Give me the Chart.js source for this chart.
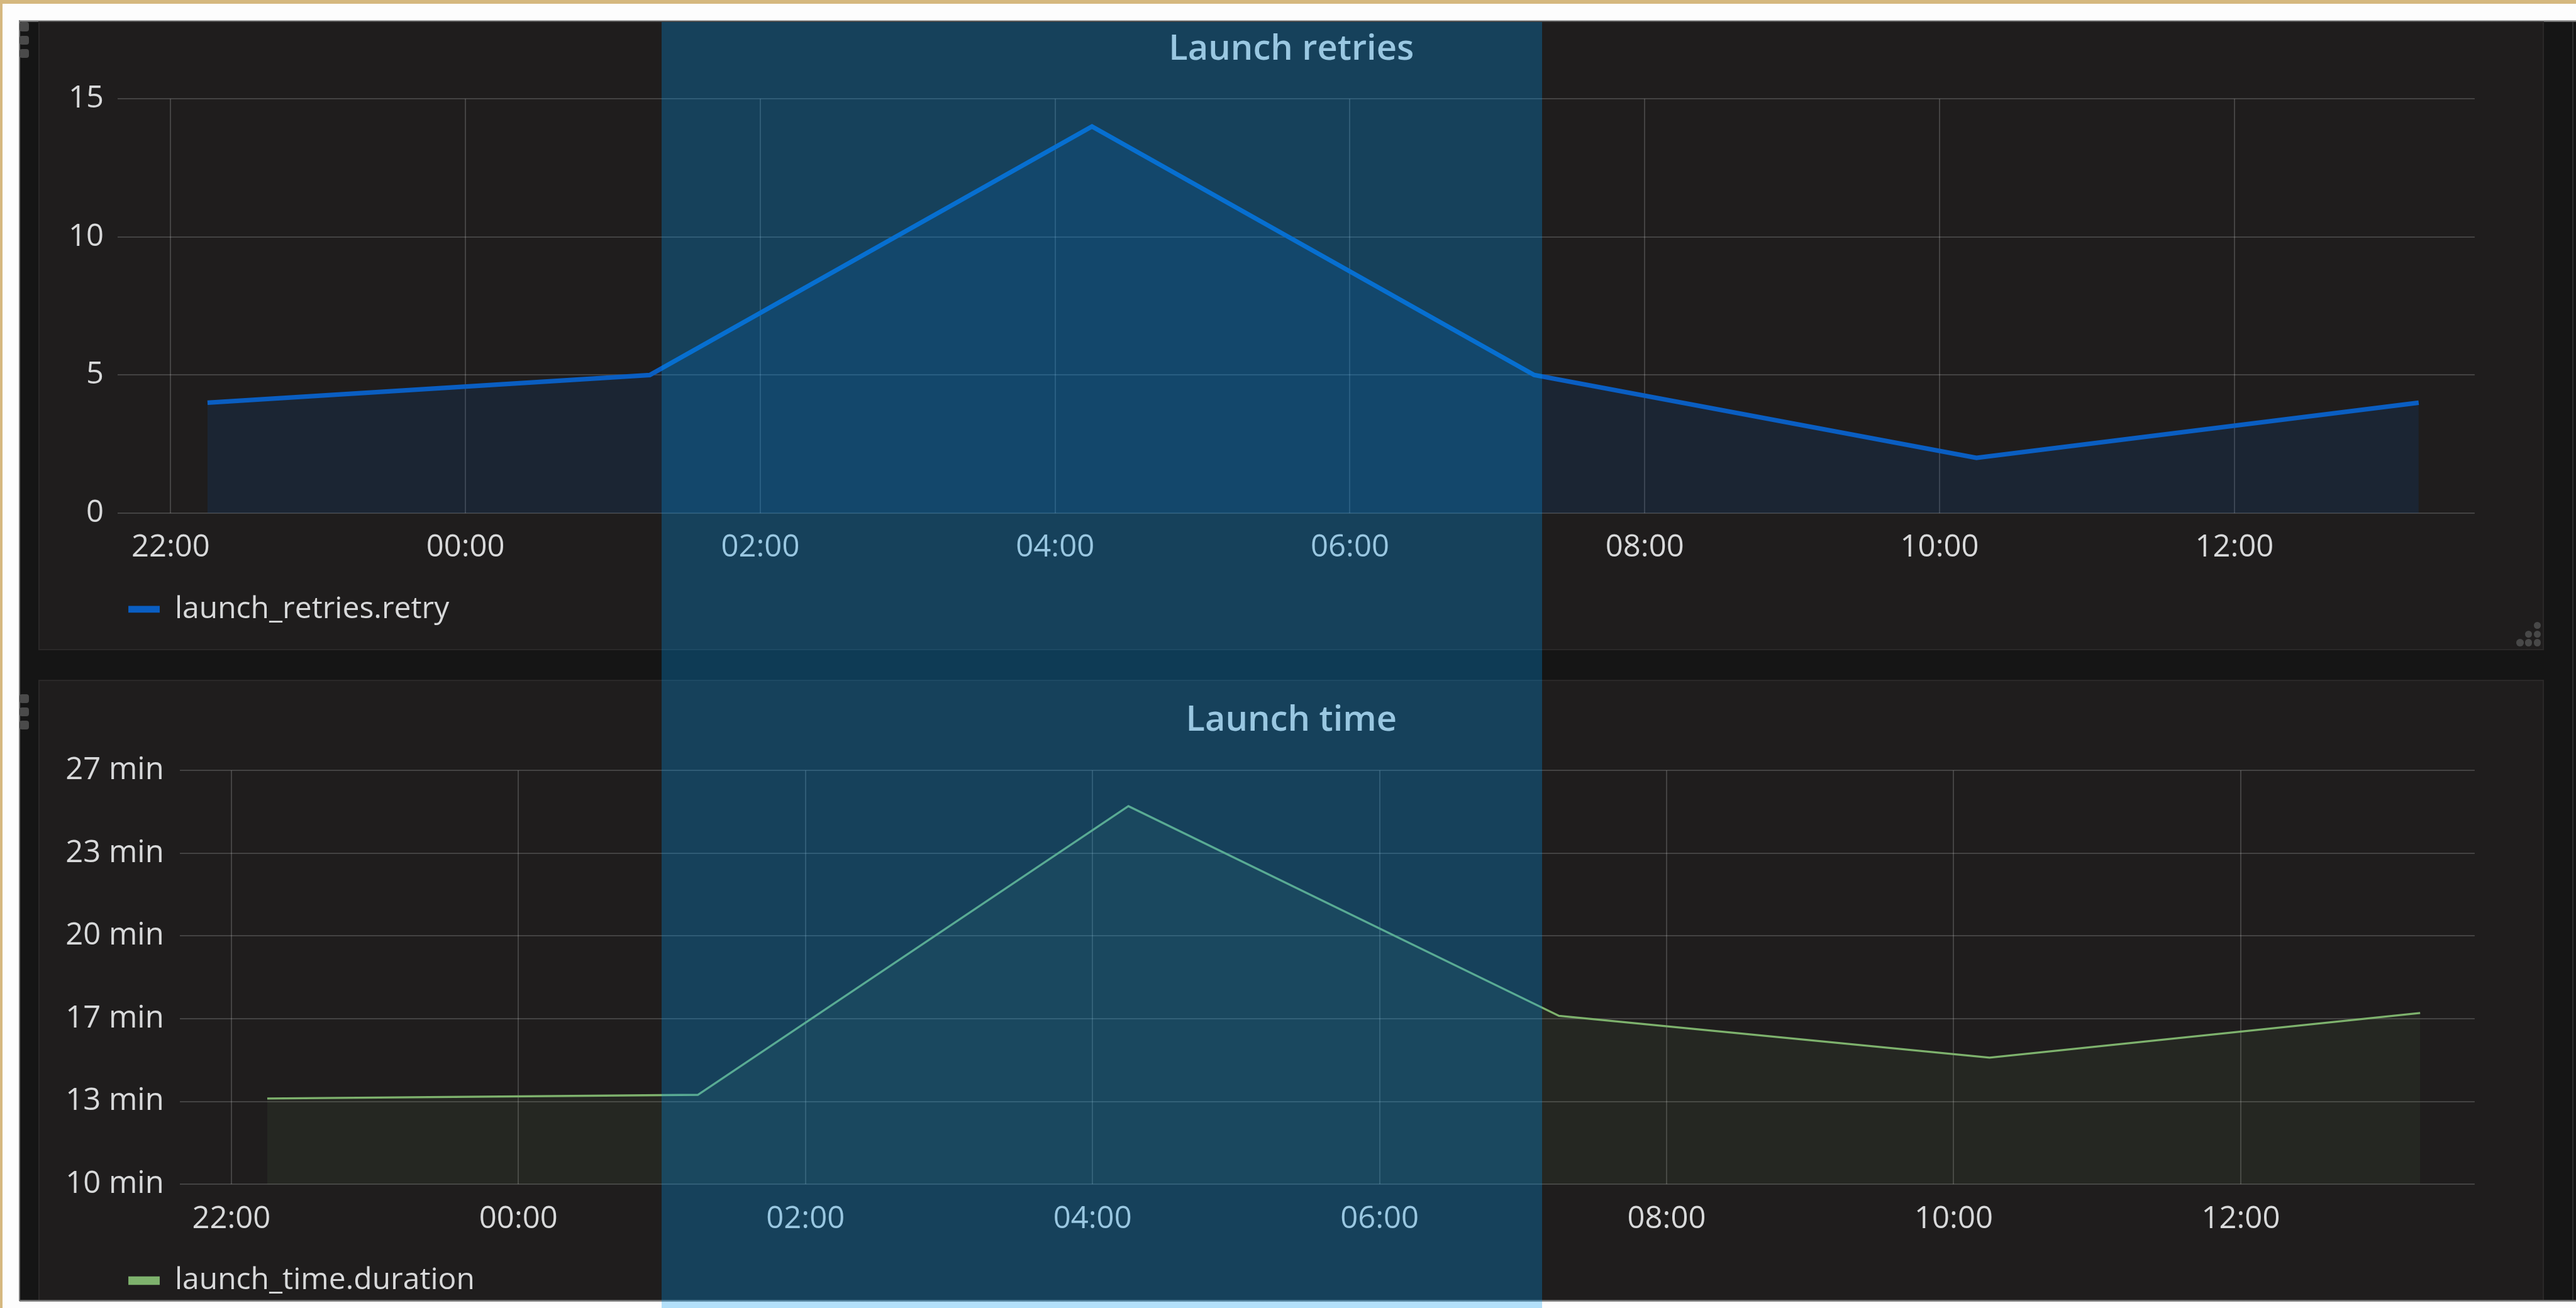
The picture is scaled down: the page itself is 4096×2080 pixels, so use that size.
<!DOCTYPE html>
<html>
<head>
<meta charset="utf-8">
<title>Launch dashboard</title>
<script src="https://cdn.jsdelivr.net/npm/chart.js@4.4.1/dist/chart.umd.min.js"></script>
<style>
  html, body { margin: 0; padding: 0; }
  body {
    width: 4096px; height: 2080px; overflow: hidden; position: relative;
    background: #d5b87f;
    font-family: 'Open Sans', sans-serif;
  }
  .abs { position: absolute; box-sizing: border-box; }
  canvas { position: absolute; display: block; }
</style>
</head>
<body>
<script>
// ---- Data -------------------------------------------------------------
// Sample clock times (one sample every three hours, starting the evening before)
const sampleTimes = ['22:15', '01:15', '04:15', '07:15', '10:15', '13:15'];
// launch_retries.retry
const retryCounts = [4, 5, 14, 5, 2, 4];
// launch_time.duration, in seconds
const launchSeconds = [807, 816, 1514, 1007, 906, 1014];

// ---- Tick labels --------------------------------------------------------
const timeTicks = ['22:00', '00:00', '02:00', '04:00', '06:00', '08:00', '10:00', '12:00'];
const retryTicks = [0, 5, 10, 15];
const durationTicks = [600, 800, 1000, 1200, 1400, 1600];
const durationTickLabels = ['10 min', '13 min', '17 min', '20 min', '23 min', '27 min'];

// Clock time -> hours relative to midnight (evening hours belong to the day before)
function toHours(t) {
  const [hh, mm] = t.split(':').map(Number);
  const h = hh + mm / 60;
  return h >= 18 ? h - 24 : h;
}
const sampleHours = sampleTimes.map(toHours);
const timeTickHours = timeTicks.map(toHours);

// ---- Page layout (design units are 4272 x 2169, drawn at window scale) ----
const S = 4096 / 4272;
function block(x, y, w, h, style) {
  const d = document.createElement('div');
  d.className = 'abs';
  Object.assign(d.style, {
    left: (x * S) + 'px', top: (y * S) + 'px',
    width: (w * S) + 'px', height: (h * S) + 'px'
  }, style || {});
  document.body.appendChild(d);
  return d;
}

const TEXT = '#d8d9da';
const GRID = 'rgba(255,255,255,0.17)';
const FONT = "'Open Sans', sans-serif";

// frame and dashboard background
block(4, 6, 4268, 2163, { background: '#fdfdfd' });
block(32, 34, 4240, 2123, { background: '#151515' });
block(32, 33, 4240, 3, { background: 'linear-gradient(#b4b4b4, #555555)' });
block(31, 33, 2, 2125, { background: '#7c7c7c' });
block(4266, 36, 2, 2121, { background: '#2f2f2f' });

// panels
const panelStyle = { background: '#1f1d1d', boxShadow: 'inset 0 0 0 2px #2a2828' };
block(64, 35, 4155, 1043, panelStyle);
block(64, 1127, 4155, 1043, panelStyle);

// drag handles on the left of each panel
[37, 59, 81, 1151, 1173, 1195].forEach(y =>
  block(32, y, 16, 15, { background: '#4a4a4a', borderRadius: '4px' }));

// resize grip in the panel corner
[[4208, 1037], [4193, 1052], [4208, 1052], [4179, 1066], [4193, 1066], [4208, 1066]]
  .forEach(([x, y]) => block(x - 6, y - 6, 12, 12, { background: '#484848', borderRadius: '50%' }));

function addCanvas(left, top, w, h) {
  const c = document.createElement('canvas');
  c.width = w; c.height = h;
  c.style.left = left + 'px'; c.style.top = top + 'px';
  c.style.width = w + 'px'; c.style.height = h + 'px';
  document.body.appendChild(c);
  return c;
}

const legendLabels = (chart) => chart.data.datasets.map((ds, i) => ({
  text: ds.label, fillStyle: ds.borderColor, strokeStyle: ds.borderColor,
  lineWidth: 0, hidden: false, datasetIndex: i, fontColor: TEXT
}));

// Builds one graph panel; geometry targets are in design units
function graphPanel(canvas, ox, oy, g) {
  const W = canvas.width, H = canvas.height;
  const lx = v => v * S - ox, ly = v => v * S - oy;
  const plotLeft = lx(g.plotLeft), plotRight = lx(g.plotRight);
  const plotTop = ly(g.plotTop), plotBottom = ly(g.plotBottom);

  const titleSize = 56, titleLH = titleSize * 1.2;
  const tickSize = 49, tickLH = tickSize * 1.2;
  const legendSize = 48;
  const boxW = 52 * S, boxH = g.swatchH * S;

  const legendPad = 10;
  const itemH = Math.max(legendSize, boxH);
  const legendH = itemH + legendPad + 10;
  const xAxisH = 110;
  const padRight = W - plotRight;
  const padBottom = H - plotBottom - xAxisH - legendH;
  const titlePadTop = ly(g.titleY) - titleLH / 2;
  const titlePadBottom = plotTop - titlePadTop - titleLH;

  // header title centred on the panel, legend tucked under the axis
  const titleCX = lx(g.titleX);
  const legendLeft = lx(g.swatchLeft) - 3 - legendPad;
  const legendTop = ly(g.legendY) - legendPad - itemH / 2;
  const placeHeaderFooter = {
    id: 'placeHeaderFooter',
    afterLayout(chart) {
      const t = chart.titleBlock;
      const half = (t.right - t.left) / 2;
      t.left = titleCX - half; t.right = titleCX + half;
      const lg = chart.legend;
      const lh = lg.bottom - lg.top;
      lg.left = legendLeft; lg.top = legendTop; lg.bottom = legendTop + lh;
    }
  };

  return new Chart(canvas, {
    type: 'line',
    data: {
      datasets: [{
        label: g.label,
        data: sampleHours.map((x, i) => ({ x, y: g.values[i] })),
        borderColor: g.color,
        backgroundColor: g.fillColor,
        borderWidth: g.lineWidth,
        fill: g.fill,
        pointRadius: 0,
        tension: 0
      }]
    },
    plugins: [placeHeaderFooter],
    options: {
      responsive: false,
      animation: false,
      devicePixelRatio: 1,
      events: [],
      layout: { padding: { left: 0, right: padRight, top: 0, bottom: padBottom } },
      plugins: {
        title: {
          display: true, text: g.title, color: TEXT,
          font: { family: FONT, size: titleSize, weight: '600', lineHeight: 1.2 },
          padding: { top: titlePadTop, bottom: titlePadBottom }
        },
        legend: {
          position: 'bottom', align: 'start',
          labels: {
            color: TEXT, font: { family: FONT, size: legendSize },
            boxWidth: boxW, boxHeight: boxH, padding: legendPad,
            generateLabels: legendLabels
          }
        },
        tooltip: { enabled: false }
      },
      scales: {
        x: {
          type: 'linear', min: -2.36, max: 13.63,
          afterBuildTicks: a => { a.ticks = timeTickHours.map(v => ({ value: v })); },
          afterFit: a => { a.height = xAxisH; },
          grid: { color: GRID, lineWidth: 2, drawTicks: false },
          border: { display: false },
          ticks: {
            color: TEXT, font: { family: FONT, size: tickSize, lineHeight: 1.2 },
            padding: ly(g.xLabelY) - plotBottom - tickLH / 2,
            autoSkip: false, maxRotation: 0, minRotation: 0,
            callback: (v, i) => timeTicks[i]
          }
        },
        y: {
          type: 'linear', min: g.yMin, max: g.yMax,
          afterBuildTicks: a => { a.ticks = g.yTicks.map(v => ({ value: v })); },
          afterFit: a => { a.width = plotLeft; },
          grid: { color: GRID, lineWidth: 2, drawTicks: false },
          border: { display: false },
          ticks: {
            color: TEXT, font: { family: FONT, size: tickSize, lineHeight: 1.2 },
            padding: plotLeft - lx(g.yLabelRight),
            callback: (v, i) => g.yLabels[i]
          }
        }
      }
    }
  });
}

function build() {
  const c1 = addCanvas(61, 34, 3984, 1000);
  graphPanel(c1, 61, 34, {
    title: 'Launch retries', label: 'launch_retries.retry',
    values: retryCounts, yMin: 0, yMax: 15, yTicks: retryTicks,
    yLabels: retryTicks.map(String),
    color: 'rgb(10, 94, 194)', fillColor: 'rgba(10, 94, 194, 0.14)',
    lineWidth: 7.3, fill: 'origin', swatchH: 11,
    plotLeft: 195, plotRight: 4104, plotTop: 164, plotBottom: 851,
    titleX: 2141.5, titleY: 82, xLabelY: 908, yLabelRight: 172,
    legendY: 1010.5, swatchLeft: 216
  });

  const c2 = addCanvas(61, 1081, 3984, 1000);
  graphPanel(c2, 61, 1081, {
    title: 'Launch time', label: 'launch_time.duration',
    values: launchSeconds, yMin: 600, yMax: 1600, yTicks: durationTicks,
    yLabels: durationTickLabels,
    color: '#7eb26d', fillColor: 'rgba(126, 178, 109, 0.07)',
    lineWidth: 3.3, fill: 'start', swatchH: 14,
    plotLeft: 298, plotRight: 4104, plotTop: 1278, plotBottom: 1964,
    titleX: 2141.5, titleY: 1195, xLabelY: 2022, yLabelRight: 272,
    legendY: 2124, swatchLeft: 216
  });

  // lower edge of the dashboard frame
  block(32, 2156, 4240, 3, { background: 'linear-gradient(#5a5a5a, #9a9a9a)' });
  block(4, 2159, 4268, 10, { background: '#fdfdfd' });

  // selected time range highlight
  block(1097, 37, 1460, 2132, { background: 'rgba(0, 155, 245, 0.29)', pointerEvents: 'none' });
}

Promise.all([
  document.fonts.load("49px 'Open Sans'"),
  document.fonts.load("600 56px 'Open Sans'")
]).catch(() => {}).then(build);
</script>
</body>
</html>
